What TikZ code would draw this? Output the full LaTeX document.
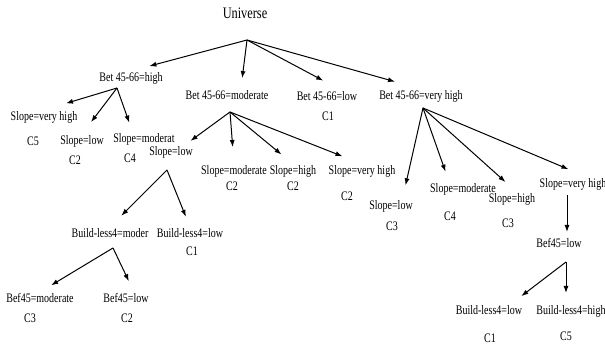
\documentclass[tikz,border=0pt]{standalone}
\usepackage{fontspec}
\setmainfont{Liberation Serif}[FakeStretch=0.77]
\usetikzlibrary{arrows.meta}

\begin{document}
\begin{tikzpicture}[x=1pt, y=-1pt, >={Latex[length=7pt,width=5pt]}, line width=1pt]
        \tikzstyle{attr}=[inner sep=2pt, text height=8.5pt, text depth=2.5pt, font=\fontsize{13}{15}\selectfont]
        \tikzstyle{cls}=[attr]

        \useasboundingbox (0,0) rectangle (605,347);

        % root and first split
        \node[attr, font=\fontsize{16}{18}\selectfont] (uni) at (245,16) {Universe};
        \coordinate (uf) at (247,40);
        \node[attr] (bh) at (131,79) {Bet 45-66=high};
        \node[attr] (bm) at (227,97) {Bet 45-66=moderate};
        \node[attr] (bl) at (327,98) {Bet 45-66=low};
        \node[cls] (blc) at (328,118) {C1};
        \node[attr] (bvh) at (421,97) {Bet 45-66=very high};

        % Bet 45-66=high
        \coordinate (f1) at (117,88);
        \node[attr] (svh1) at (44,118) {Slope=very high};
        \node[cls] (svh1c) at (33,143) {C5};
        \node[attr] (sl1) at (82,142) {Slope=low};
        \node[cls] (sl1c) at (75,162) {C2};
        \node[attr] (sm1) at (144,140) {Slope=moderat};
        \node[cls] (sm1c) at (130,160) {C4};

        % Bet 45-66=moderate
        \coordinate (f2) at (230,112);
        \node[attr] (sl2) at (171,153) {Slope=low};
        \node[attr] (smo2) at (234,172) {Slope=moderate};
        \node[cls] (smo2c) at (232,188) {C2};
        \node[attr] (sh2) at (293,172) {Slope=high};
        \node[cls] (sh2c) at (293,188) {C2};
        \node[attr] (svh2) at (362,172) {Slope=very high};
        \node[cls] (svh2c) at (347,198) {C2};

        \coordinate (f5) at (167,170);
        \node[attr] (bm5) at (110,235) {Build-less4=moder};
        \node[attr] (bl5) at (190,235) {Build-less4=low};
        \node[cls] (bl5c) at (192,253) {C1};

        \coordinate (f6) at (113,248);
        \node[attr] (bf6m) at (40,300) {Bef45=moderate};
        \node[cls] (bf6mc) at (30,320) {C3};
        \node[attr] (bf6l) at (126,300) {Bef45=low};
        \node[cls] (bf6lc) at (127,320) {C2};

        % Bet 45-66=very high
        \coordinate (f3) at (423,108);
        \node[attr] (sl3) at (391,207) {Slope=low};
        \node[cls] (sl3c) at (392,228) {C3};
        \node[attr] (smo3) at (463,190) {Slope=moderate};
        \node[cls] (smo3c) at (450,218) {C4};
        \node[attr] (sh3) at (512,200) {Slope=high};
        \node[cls] (sh3c) at (508,225) {C3};
        \node[attr] (svh3) at (573,185) {Slope=very high};

        \node[attr] (bf3) at (559,245) {Bef45=low};
        \coordinate (f4) at (566,262);
        \node[attr] (bl4) at (489,312) {Build-less4=low};
        \node[cls] (bl4c) at (490,339) {C1};
        \node[attr] (bh4) at (571,312) {Build-less4=high};
        \node[cls] (bh4c) at (566,337) {C5};

        \draw[->, shorten >=19pt] (uf) -- (bh.north);
        \draw[->, shorten >=11pt] (uf) -- (bm.30);
        \draw[->, shorten >=20pt] (uf) -- (bl.30);
        \draw[->, shorten >=27pt] (uf) -- (bvh.north);

        \draw[->, shorten >=23pt] (f1) -- (svh1.north);
        \draw[->, shorten >=15pt] (f1) -- (sl1.north);
        \draw[->, shorten >=10pt] (f1) -- (sm1.145);

        \draw[->, shorten >=7pt] (f2) -- (sl2.30);
        \draw[->, shorten >=17pt] (f2) -- (smo2.north);
        \draw[->, shorten >=15pt] (f2) -- (sh2.north);
        \draw[->, shorten >=21pt] (f2) -- (svh2.north);

        \draw[->, shorten >=16pt] (f5) -- (bm5.north);
        \draw[->, shorten >=11pt] (f5) -- (bl5.north);
        \draw[->, shorten >=13pt] (f6) -- (bf6m.north);
        \draw[->, shorten >=12pt] (f6) -- (bf6l.45);

        \draw[->, shorten >=14pt] (f3) -- (sl3.35);
        \draw[->, shorten >=11pt] (f3) -- (smo3.150);
        \draw[->, shorten >=15pt] (f3) -- (sh3.60);
        \draw[->, shorten >=20pt] (f3) -- (svh3.30);

        \draw[->, shorten <=2pt, shorten >=5pt] ([xshift=-6pt]svh3.south) -- ([xshift=-6pt]svh3.south |- bf3.north);
        \draw[->, shorten >=13pt] (f4) -- (bl4.20);
        \draw[->, shorten >=11pt] (f4) -- (f4 |- bh4.north);
    \end{tikzpicture}
\end{document}
